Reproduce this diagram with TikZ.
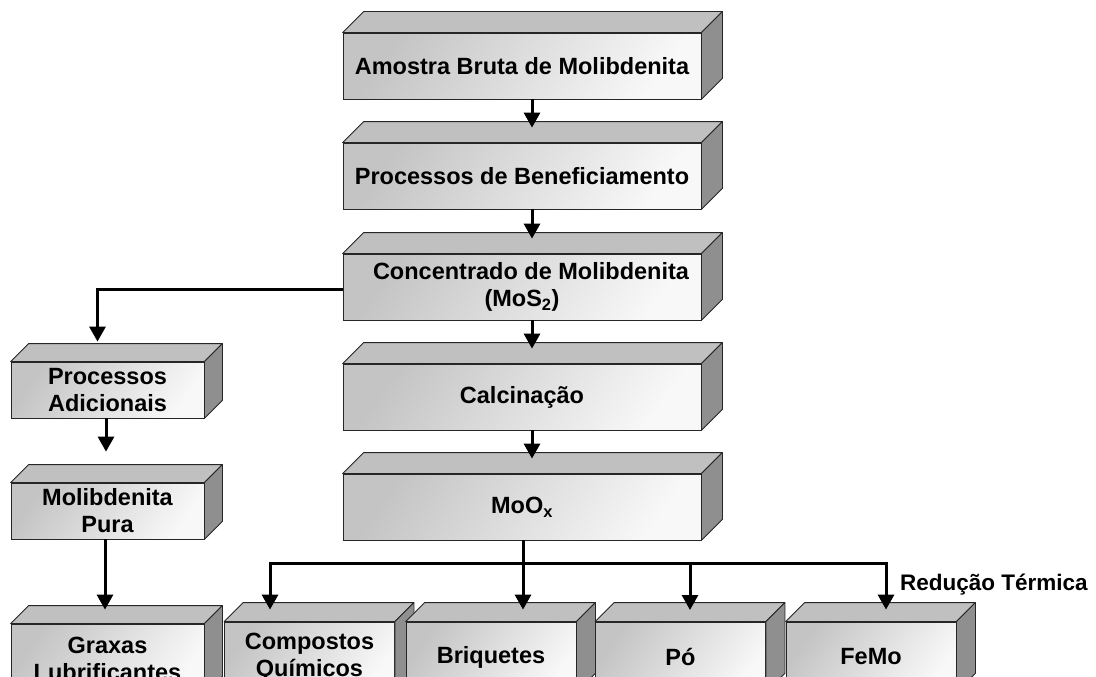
\documentclass[tikz,border=0pt]{standalone}
\usepackage{fontspec}
\setmainfont{Liberation Sans}
\usetikzlibrary{arrows.meta,calc}
\definecolor{topc}{RGB}{192,192,192}
\definecolor{sidec}{RGB}{143,143,143}
\definecolor{frontl}{RGB}{196,196,196}
\definecolor{frontr}{RGB}{248,248,248}
\newcommand\drawfaces[2]{%
  \draw[topface] (#1.north west) -- ++(#2,-#2) -- ($(#1.north east)+(#2,-#2)$) -- (#1.north east) -- cycle;
  \draw[sideface] (#1.north east) -- ++(#2,-#2) -- ($(#1.south east)+(#2,-#2)$) -- (#1.south east) -- cycle;}
\tikzset{
  front/.style={rectangle, draw=black!85, line width=0.8pt, inner sep=0pt, align=center,
    top color=frontl, bottom color=frontr, shading angle=55,
    font=\bfseries\fontsize{23.5}{27}\selectfont},
  bigbox/.style={front, minimum width=358pt, minimum height=66pt},
  leftbox/.style={front, minimum width=193pt, minimum height=56pt},
  lowbox/.style={front, minimum width=170pt, minimum height=70pt},
  topface/.style={draw=black!85, line width=0.8pt, fill=topc, line join=round},
  sideface/.style={draw=black!85, line width=0.8pt, fill=sidec, line join=round},
  conn/.style={line width=3pt, black},
  arr/.style={conn, -{Triangle[width=16pt,length=15pt]}},
  lbl/.style={font=\bfseries\fontsize{22.5}{26}\selectfont}
}
\begin{document}
\begin{tikzpicture}[x=1pt,y=-1pt]
\useasboundingbox (0,0) rectangle (1096,677);
\clip (0,0) rectangle (1096,677);
% centre column
\node[bigbox] (A) at (522,66) {Amostra Bruta de Molibdenita};
\drawfaces{A}{21}
\node[bigbox] (B) at (522,176) {Processos de Beneficiamento};
\drawfaces{B}{21}
\node[bigbox] (C) at (522,287) {\hspace*{18pt}Concentrado de Molibdenita\\(MoS\textsubscript{2})};
\drawfaces{C}{21}
\node[bigbox] (D) at (522,397) {Calcina\c{c}\~ao};
\drawfaces{D}{21}
\node[bigbox] (E) at (522,507) {MoO\textsubscript{x}};
\drawfaces{E}{21}
% left column
\node[leftbox] (F) at (107.5,390) {Processos\\Adicionais};
\drawfaces{F}{18}
\node[leftbox] (G) at (107.5,511) {Molibdenita\\Pura};
\drawfaces{G}{18}
\node[lowbox, minimum width=193pt] (H) at (107.5,659) {Graxas\\Lubrificantes};
\drawfaces{H}{18}
% bottom row
\node[lowbox] (P1) at (309.5,657) {Compostos\\Qu\'imicos};
\drawfaces{P1}{19}
\node[lowbox] (P2) at (491,657) {Briquetes};
\drawfaces{P2}{19}
\node[lowbox] (P3) at (680.5,657) {P\'o};
\drawfaces{P3}{19}
\node[lowbox] (P4) at (871,657) {FeMo};
\drawfaces{P4}{19}
\node[lbl] (RT) at (994,585) {Redu\c{c}\~ao T\'ermica};
% connectors
\draw[arr, shorten >=15pt] ([xshift=10pt]A.south) -- ([xshift=10pt]B.north);
\draw[arr, shorten >=15pt] ([xshift=10pt]B.south) -- ([xshift=10pt]C.north);
\draw[arr, shorten >=15pt] ([xshift=10pt]C.south) -- ([xshift=10pt]D.north);
\draw[arr, shorten >=15pt] ([xshift=10pt]D.south) -- ([xshift=10pt]E.north);
\draw[arr, shorten >=20pt] ([yshift=-2.5pt]C.west) -| ([xshift=-10pt]F.north);
\draw[arr, shorten >=31pt] ([xshift=-1.5pt]F.south) -- ([xshift=-1.5pt]G.north);
\draw[arr, shorten >=14pt] ([xshift=-2.5pt]G.south) -- ([xshift=-2.5pt]H.north);
\coordinate (split) at (523,563);
\coordinate (jl) at (270,563);
\coordinate (jr) at (886,563);
\draw[conn] (E.south -| split) -- (split);
\draw[conn, line cap=rect] (jl) -- (jr);
\draw[arr, shorten >=12pt] (jl) -- (jl |- P1.north);
\draw[arr, shorten >=12pt] (split) -- (split |- P2.north);
\draw[arr, shorten >=12pt] (690,563) -- (690,622);
\draw[arr, shorten >=12pt] (jr) -- (jr |- P4.north);
\end{tikzpicture}
\end{document}
